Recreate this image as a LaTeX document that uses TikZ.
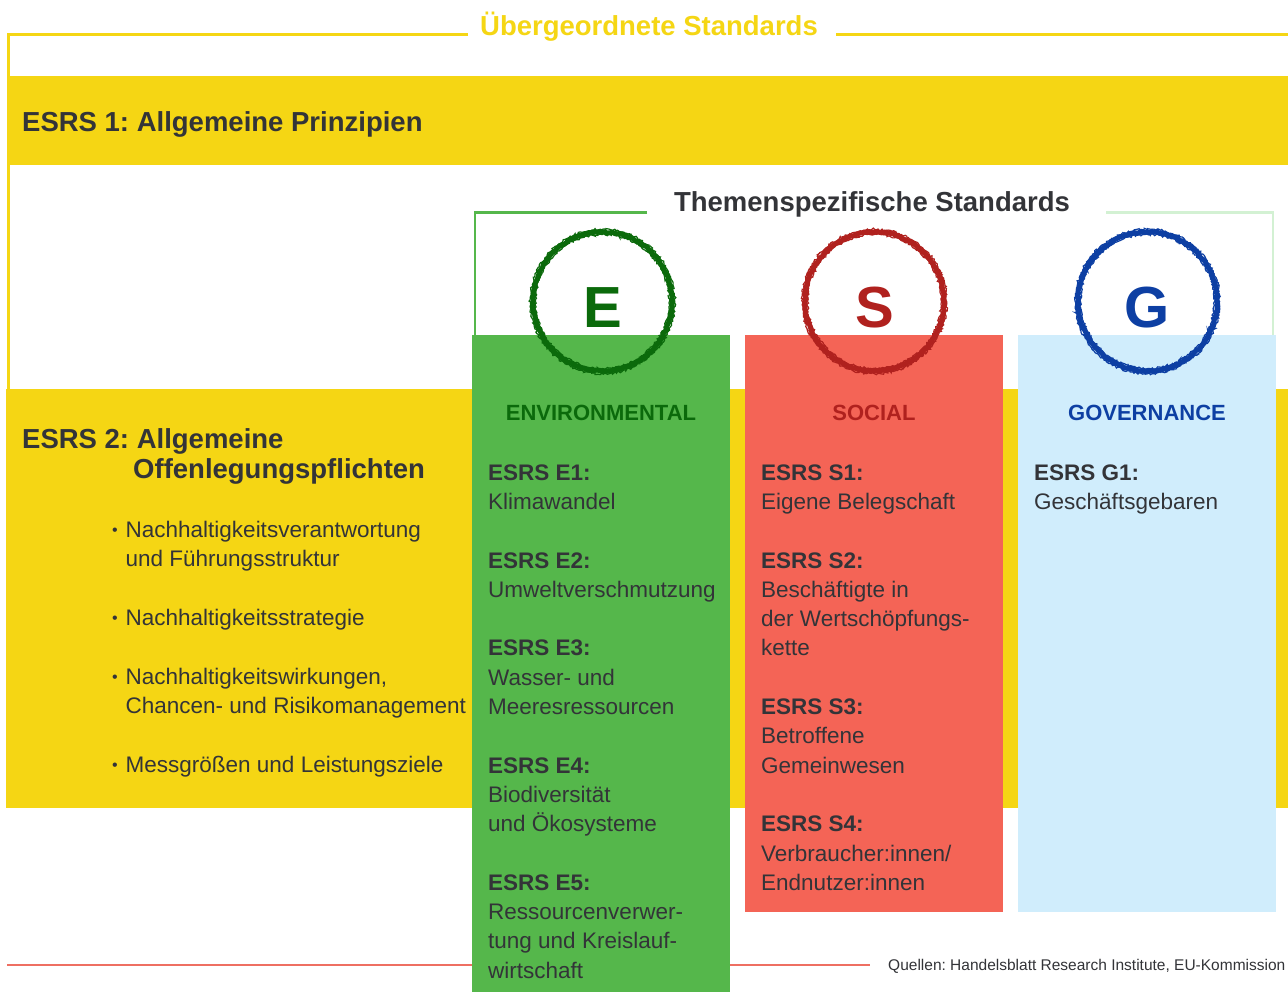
\documentclass[tikz,border=0pt]{standalone}
\usepackage{fontspec}
\setmainfont{Liberation Sans}
\frenchspacing
\usetikzlibrary{decorations.pathmorphing}
\definecolor{ylw}{HTML}{F5D614}
\definecolor{cgreen}{HTML}{55B74B}
\definecolor{cred}{HTML}{F46456}
\definecolor{cblue}{HTML}{D0EDFC}
\definecolor{egreen}{HTML}{0B6A0B}
\definecolor{sred}{HTML}{B0211E}
\definecolor{gblue}{HTML}{0D3FA3}
\definecolor{tgray}{HTML}{333438}
\definecolor{frlight}{HTML}{D3F1D3}
\definecolor{srcline}{HTML}{EE6F62}
\begin{document}
\begin{tikzpicture}[x=1pt,y=-1pt,
  reg/.style={anchor=base west, inner sep=0pt, text=tgray, font=\fontsize{22.5}{26}\selectfont\frenchspacing},
  hd/.style={reg, font=\fontsize{22.5}{26}\selectfont\bfseries\frenchspacing},
  bigtitle/.style={anchor=base, inner sep=0pt, font=\fontsize{27.5}{32}\selectfont\bfseries\frenchspacing},
  coltitle/.style={anchor=base, inner sep=0pt, font=\fontsize{22}{26}\selectfont\bfseries},
  letter/.style={anchor=base, inner sep=0pt, font=\fontsize{58}{60}\selectfont\bfseries},
  rough/.style={line width=5pt, decorate, decoration={random steps, segment length=2.5pt, amplitude=0.7pt}},
  roughthin/.style={line width=1.2pt, decorate, decoration={random steps, segment length=1.5pt, amplitude=1.1pt}}]
\useasboundingbox (0,0) rectangle (1288,992);
\clip (0,0) rectangle (1288,992);
\fill[white] (0,0) rectangle (1288,992);
% bands
\fill[ylw] (7,76) rectangle (1288,165);
\fill[ylw] (6,389) rectangle (1288,808);
% outline of general standards
\draw[ylw, line width=3pt] (468,35) -- (8,35) -- (8,389);
\draw[ylw, line width=3pt] (836,35) -- (1288,35);
\node[bigtitle, text=ylw] (ueb) at (649,36) {Übergeordnete Standards};
\node[anchor=base west, inner sep=0pt, text=tgray, font=\fontsize{27.5}{32}\selectfont\bfseries\frenchspacing] (esrs1) at (22,132) {ESRS 1: Allgemeine Prinzipien};
% topical frame
\draw[cgreen, line width=2.5pt] (647,212.5) -- (475,212.5) -- (475,335);
\draw[frlight, line width=2.5pt] (1106,212.5) -- (1273,212.5) -- (1273,335);
\node[bigtitle, text=tgray] (them) at (872,212) {Themenspezifische Standards};
% columns
\fill[cgreen] (472,335) rectangle (730,992);
\fill[cred] (745,335) rectangle (1003,912);
\fill[cblue] (1018,335) rectangle (1276,912);
% circles
\pgfmathsetseed{7}
\foreach \cx/\col in {602.5/egreen, 874.5/sred, 1147.5/gblue}{
  \draw[draw=\col, rough] (\cx,301.5) circle[radius=69.5pt];
  \draw[draw=\col, roughthin] (\cx,301.5) circle[radius=72.3pt];
  \draw[draw=\col, roughthin] (\cx,301.5) circle[radius=67pt];
}
\node[letter, text=egreen] (E) at (603,327) {E};
\node[letter, text=sred] (S) at (874.5,327) {S};
\node[letter, text=gblue] (G) at (1147.5,327) {G};
% column titles
\node[coltitle, text=egreen] (envt) at (601,420) {ENVIRONMENTAL};
\node[coltitle, text=sred] (soct) at (874,420) {SOCIAL};
\node[coltitle, text=gblue] (govt) at (1147,420) {GOVERNANCE};
% E column
\node[hd] (e1) at (488,480) {ESRS E1:};
\node[reg] (e1a) at (488,509.3) {Klimawandel};
\node[hd] (e2) at (488,568) {ESRS E2:};
\node[reg] (e2a) at (488,597.2) {Umweltverschmutzung};
\node[hd] (e3) at (488,655.9) {ESRS E3:};
\node[reg] (e3a) at (488,685.2) {Wasser- und};
\node[reg] (e3b) at (488,714.5) {Meeresressourcen};
\node[hd] (e4) at (488,773.1) {ESRS E4:};
\node[reg] (e4a) at (488,802.4) {Biodiversität};
\node[reg] (e4b) at (488,831.7) {und Ökosysteme};
\node[hd] (e5) at (488,890.3) {ESRS E5:};
\node[reg] (e5a) at (488,919.6) {Ressourcenverwer-};
\node[reg] (e5b) at (488,948.9) {tung und Kreislauf-};
\node[reg] (e5c) at (488,978.2) {wirtschaft};
% S column
\node[hd] (s1) at (761,480) {ESRS S1:};
\node[reg] (s1a) at (761,509.3) {Eigene Belegschaft};
\node[hd] (s2) at (761,568) {ESRS S2:};
\node[reg] (s2a) at (761,597.2) {Beschäftigte in};
\node[reg] (s2b) at (761,626.5) {der Wertschöpfungs-};
\node[reg] (s2c) at (761,655.9) {kette};
\node[hd] (s3) at (761,714.5) {ESRS S3:};
\node[reg] (s3a) at (761,743.8) {Betroffene};
\node[reg] (s3b) at (761,773.1) {Gemeinwesen};
\node[hd] (s4) at (761,831.7) {ESRS S4:};
\node[reg] (s4a) at (761,861) {Verbraucher:innen/};
\node[reg] (s4b) at (761,890.3) {Endnutzer:innen};
% G column
\node[hd] (g1) at (1034,480) {ESRS G1:};
\node[reg] (g1a) at (1034,509.3) {Geschäftsgebaren};
% ESRS 2
\node[anchor=base west, inner sep=0pt, text=tgray, font=\fontsize{27.5}{32}\selectfont\bfseries\frenchspacing] (esrs2a) at (22,448) {ESRS 2: Allgemeine};
\node[anchor=base west, inner sep=0pt, text=tgray, font=\fontsize{27.5}{32}\selectfont\bfseries] (esrs2b) at (133,478) {Offenlegungspflichten};
\foreach \yy/\nm in {537/b1, 625/b2, 684/b3, 772/b4}{
  \node[reg, font=\fontsize{16}{18}\selectfont] (\nm) at (112,\yy-2) {•};
}
\node[reg] (b1a) at (125.5,537) {Nachhaltigkeitsverantwortung};
\node[reg] (b1b) at (125.5,566.3) {und Führungsstruktur};
\node[reg] (b2a) at (125.5,625) {Nachhaltigkeitsstrategie};
\node[reg] (b3a) at (125.5,684) {Nachhaltigkeitswirkungen,};
\node[reg] (b3b) at (125.5,713.3) {Chancen- und Risikomanagement};
\node[reg] (b4a) at (125.5,772) {Messgrößen und Leistungsziele};
% source line
\draw[srcline, line width=2pt] (7,965) -- (472,965);
\draw[srcline, line width=2pt] (730,965) -- (870,965);
\node[anchor=base west, inner sep=0pt, text=tgray, font=\fontsize{15.5}{18}\selectfont\frenchspacing] (src) at (888,970) {Quellen: Handelsblatt Research Institute, EU-Kommission};
\end{tikzpicture}
\end{document}
